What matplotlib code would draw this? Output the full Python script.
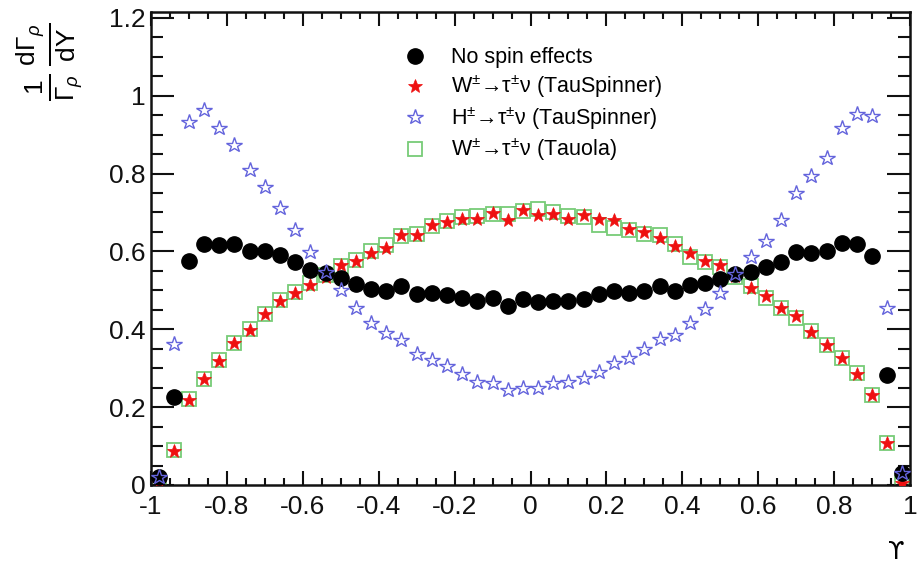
import numpy as np
import matplotlib
matplotlib.use("Agg")
import matplotlib.pyplot as plt
from matplotlib.ticker import MultipleLocator, FixedFormatter, FixedLocator

plt.rcParams['font.family'] = ['Liberation Sans', 'DejaVu Sans']
plt.rcParams['mathtext.fontset'] = 'custom'
plt.rcParams['mathtext.rm'] = 'Liberation Sans'
plt.rcParams['mathtext.it'] = 'Liberation Sans:italic'
plt.rcParams['mathtext.bf'] = 'Liberation Sans:bold'

# ---- data ----
edges = np.linspace(-1.0, 1.0, 51)
x = 0.5 * (edges[:-1] + edges[1:])

no_spin = [0.02, 0.226, 0.576, 0.619, 0.617, 0.619, 0.600, 0.602, 0.591, 0.573,
           0.553, 0.544, 0.531, 0.516, 0.504, 0.498, 0.510, 0.490, 0.494, 0.487,
           0.481, 0.472, 0.481, 0.461, 0.478, 0.470, 0.472, 0.472, 0.478, 0.490,
           0.498, 0.492, 0.498, 0.511, 0.498, 0.513, 0.518, 0.530, 0.541, 0.547,
           0.559, 0.572, 0.598, 0.596, 0.602, 0.622, 0.619, 0.589, 0.282, 0.03]

w_tauspinner = [0.005, 0.088, 0.219, 0.271, 0.319, 0.364, 0.399, 0.438, 0.472, 0.494,
                0.513, 0.535, 0.564, 0.576, 0.596, 0.608, 0.642, 0.642, 0.668, 0.675,
                0.684, 0.684, 0.699, 0.680, 0.707, 0.694, 0.697, 0.684, 0.693, 0.684,
                0.680, 0.658, 0.649, 0.634, 0.613, 0.596, 0.576, 0.566, 0.537, 0.507,
                0.485, 0.455, 0.435, 0.393, 0.360, 0.325, 0.285, 0.231, 0.107, 0.005]

h_tauspinner = [0.02, 0.362, 0.932, 0.962, 0.917, 0.874, 0.809, 0.766, 0.712, 0.656,
                0.598, 0.548, 0.500, 0.455, 0.415, 0.390, 0.373, 0.337, 0.321, 0.306,
                0.285, 0.265, 0.261, 0.244, 0.248, 0.249, 0.261, 0.265, 0.274, 0.291,
                0.313, 0.326, 0.349, 0.375, 0.386, 0.416, 0.453, 0.492, 0.541, 0.585,
                0.628, 0.680, 0.749, 0.795, 0.839, 0.917, 0.952, 0.947, 0.455, 0.03]

w_tauola = [0.005, 0.090, 0.222, 0.272, 0.322, 0.366, 0.402, 0.440, 0.475, 0.497,
            0.518, 0.540, 0.562, 0.578, 0.600, 0.617, 0.639, 0.645, 0.665, 0.678,
            0.689, 0.690, 0.697, 0.697, 0.703, 0.710, 0.700, 0.692, 0.688, 0.668,
            0.661, 0.655, 0.645, 0.642, 0.620, 0.585, 0.573, 0.560, 0.535, 0.510,
            0.480, 0.455, 0.430, 0.395, 0.360, 0.327, 0.287, 0.232, 0.108, 0.005]

labels = ['No spin effects',
          r'W$^{\pm}$→τ$^{\pm}$ν (TauSpinner)',
          r'H$^{\pm}$→τ$^{\pm}$ν (TauSpinner)',
          r'W$^{\pm}$→τ$^{\pm}$ν (Tauola)']

xtick_vals = [-1, -0.8, -0.6, -0.4, -0.2, 0, 0.2, 0.4, 0.6, 0.8, 1]
xtick_labels = ['-1', '-0.8', '-0.6', '-0.4', '-0.2', '0', '0.2', '0.4', '0.6', '0.8', '1']
ytick_vals = [0, 0.2, 0.4, 0.6, 0.8, 1.0, 1.2]
ytick_labels = ['0', '0.2', '0.4', '0.6', '0.8', '1', '1.2']

# ---- figure ----
W, H = 919, 567
fig = plt.figure(figsize=(W / 100, H / 100), dpi=100)
ax = fig.add_axes([151 / W, 1 - 485 / H, (910 - 151) / W, (485 - 12) / H])

h_green, = ax.plot(x, w_tauola, linestyle='none', marker='s', markersize=10.5,
                   markerfacecolor='none', markeredgecolor='#77cc77', markeredgewidth=1.3, zorder=2)
h_red, = ax.plot(x, w_tauspinner, linestyle='none', marker='*', markersize=10,
                 markerfacecolor='#ee1111', markeredgecolor='#ee1111', markeredgewidth=0.5, zorder=3)
h_black, = ax.plot(x, no_spin, linestyle='none', marker='o', markersize=11,
                   markerfacecolor='black', markeredgecolor='black', zorder=4)
h_blue, = ax.plot(x, h_tauspinner, linestyle='none', marker='*', markersize=11.5,
                  markerfacecolor='none', markeredgecolor='#6464dc', markeredgewidth=1.0, zorder=5)

ax.set_xlim(-1, 1)
ax.set_ylim(0, 1.215)

ax.xaxis.set_major_locator(FixedLocator(xtick_vals))
ax.xaxis.set_major_formatter(FixedFormatter(xtick_labels))
ax.xaxis.set_minor_locator(MultipleLocator(0.05))
ax.yaxis.set_major_locator(FixedLocator(ytick_vals))
ax.yaxis.set_major_formatter(FixedFormatter(ytick_labels))
ax.yaxis.set_minor_locator(MultipleLocator(0.05))

ax.tick_params(axis='both', which='both', direction='in', top=True, right=True,
               labelsize=19, width=1.5, colors='#111111')
ax.tick_params(axis='x', which='major', length=10, pad=7)
ax.tick_params(axis='x', which='minor', length=5)
ax.tick_params(axis='y', which='major', length=16.5, pad=4)
ax.tick_params(axis='y', which='minor', length=8.5)
for s in ax.spines.values():
    s.set_linewidth(1.8)
    s.set_color('#111111')

leg = ax.legend([h_black, h_red, h_blue, h_green], labels,
                loc='upper left', bbox_to_anchor=(0.333, 0.925), frameon=False,
                fontsize=15.5, handlelength=1.0, handletextpad=1.2,
                labelspacing=0.24, borderpad=0, borderaxespad=0, numpoints=1)

fig.text(50 / W, 1 - 62 / H,
         r'$\frac{1}{\Gamma_{\rho}}\,\frac{\mathrm{d}\Gamma_{\rho}}{\mathrm{dY}}$',
         rotation=90, ha='center', va='center', fontsize=27)
fig.text(896 / W, 1 - 552 / H, 'ϒ', ha='center', va='center', fontsize=17,
         family=['DejaVu Sans'])

fig.savefig('out.png', dpi=100)
